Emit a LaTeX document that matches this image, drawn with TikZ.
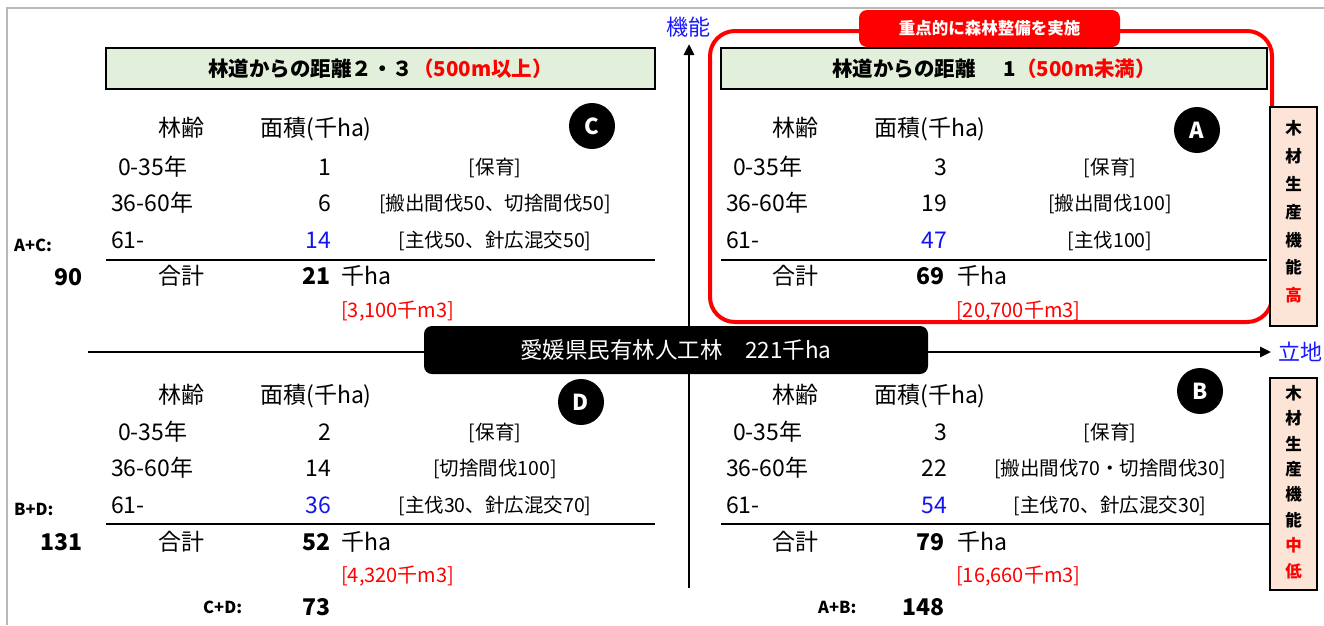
\documentclass[tikz,border=0pt]{standalone}
\usepackage{fontspec}
\setmainfont{Noto Sans CJK JP}
\usetikzlibrary{arrows.meta}
\definecolor{hdrgreen}{HTML}{E2EFDA}
\definecolor{peach}{HTML}{FCE4D6}
\definecolor{axblue}{RGB}{25,25,255}
\definecolor{framegray}{RGB}{185,185,185}
\definecolor{numblue}{RGB}{20,20,240}
\newcommand\myfs[1]{\fontsize{#1}{#1}\selectfont}
\tikzset{
 txt/.style={inner sep=0pt, font=\myfs{23}, text height=17pt, text depth=0pt},
 brk/.style={inner sep=0pt, font=\myfs{19.5}, text height=14.5pt, text depth=0pt},
 tot/.style={inner sep=0pt, font=\bfseries\myfs{23}, text height=17pt, text depth=0pt},
 lbl/.style={inner sep=0pt, font=\bfseries\myfs{16.5}, text height=12pt, text depth=0pt},
 vol/.style={inner sep=0pt, font=\myfs{20}, text=red, text height=14.8pt, text depth=0pt},
 hdr/.style={draw=black, line width=2.2pt, fill=hdrgreen, minimum height=41, inner sep=0pt,
   font=\bfseries\myfs{20.5}, text height=15pt, text depth=0pt},
 badge/.style={circle, fill=black, minimum size=46, inner sep=0pt, text=white,
   font=\bfseries\myfs{22}, text height=16pt, text depth=0pt},
 rulel/.style={line width=1.8pt},
 axis/.style={line width=2.6pt, -{Triangle[length=11pt,width=10pt]}},
 side/.style={draw=black, line width=2pt, fill=peach, minimum width=47, inner sep=0pt},
 sidetxt/.style={inner sep=0pt, align=center, font=\bfseries\fontsize{16.5}{27.8}\selectfont},
 axlbl/.style={inner sep=0pt, text=axblue, font=\myfs{22}, text height=16pt, text depth=0pt},
}
\begin{document}
\begin{tikzpicture}[x=1pt,y=-1pt]
\useasboundingbox (0,0) rectangle (1324,625);
% frame
\coordinate (fbl) at (7,625);
\coordinate (ftl) at (7,8);
\coordinate (ftr) at (1324,8);
\draw[framegray, line width=1.5pt] (fbl) -- (ftl) -- (ftr);

% axes
\coordinate (vbot) at (689,588);
\coordinate (vtop) at (689,44);
\coordinate (hleft) at (88,352);
\coordinate (hright) at (1271,352);
\draw[axis] (vbot) -- (vtop);
\draw[axis] (hleft) -- (hright);
\node[axlbl] (kino) at (688,27) {機能};
\node[axlbl, anchor=west] (ricchi) at (1278,352) {立地};

% center box
\node[fill=black, rounded corners=8pt, minimum width=504, minimum height=48, inner sep=0pt,
  text=white, font=\myfs{22.5}, text height=16.5pt, text depth=0pt] (total) at (676,350)
  {愛媛県民有林人工林　221千ha};

% headers
\node[hdr, minimum width=549] (hdrL) at (380.5,68.5)
  {林道からの距離２・３\textcolor{red}{（500m以上）}};
\node[hdr, minimum width=546] (hdrR) at (994,68.5)
  {林道からの距離\hspace{28pt}1\textcolor{red}{（500m未満）}};

% focus box
\node[draw=red, line width=4pt, rounded corners=25pt, minimum width=562, minimum height=291,
  inner sep=0pt] (focus) at (991,176.5) {};
\node[fill=red, rounded corners=8pt, minimum width=261, minimum height=37, inner sep=0pt,
  text=white, font=\bfseries\myfs{16.5}, text height=12pt, text depth=0pt] (focuslbl)
  at (989.5,28.5) {重点的に森林整備を実施};

% side boxes
\node[side, minimum height=219] (side1) at (1293.5,216.5) {};
\node[sidetxt] (side1t) at (1293.5,212) {木\\材\\生\\産\\機\\能\\\textcolor{red}{高}};
\node[side, minimum height=212] (side2) at (1293.5,484) {};
\node[sidetxt, font=\bfseries\fontsize{16.5}{25.4}\selectfont] (side2t) at (1293.5,482)
  {木\\材\\生\\産\\機\\能\\\textcolor{red}{中}\\\textcolor{red}{低}};

% ===== Quadrant C (top-left)
\node[txt] (cAgeH) at (181,128) {林齢};
\node[txt] (cAreaH) at (316,128) {面積(千ha)};
\node[badge] (cBadge) at (592,126) {C};
\node[txt, anchor=west] (cAge1) at (118,167) {0-35年};
\node[txt, anchor=east] (cN1) at (331,167) {1};
\node[brk] (cW1) at (495,167) {[保育]};
\node[txt, anchor=west] (cAge2) at (111,203) {36-60年};
\node[txt, anchor=east] (cN2) at (331,203) {6};
\node[brk] (cW2) at (495,203) {[搬出間伐50、切捨間伐50]};
\node[txt, anchor=west] (cAge3) at (111,240) {61-};
\node[txt, anchor=east, text=numblue] (cN3) at (331,240) {14};
\node[brk] (cW3) at (495,240) {[主伐50、針広混交50]};
\coordinate (cRl) at (106,260);
\coordinate (cRr) at (655,260);
\draw[rulel] (cRl) -- (cRr);
\node[txt] (cSumL) at (181,276) {合計};
\node[tot, anchor=east] (cSum) at (331,276) {21};
\node[txt, anchor=west] (cSumU) at (341,276) {千ha};
\node[vol, anchor=west] (cVol) at (341,310) {[3,100千m3]};

% ===== Quadrant A (top-right)
\node[txt] (aAgeH) at (795,128) {林齢};
\node[txt] (aAreaH) at (930,128) {面積(千ha)};
\node[badge] (aBadge) at (1197,130) {A};
\node[txt, anchor=west] (aAge1) at (733,167) {0-35年};
\node[txt, anchor=east] (aN1) at (947,167) {3};
\node[brk] (aW1) at (1110,167) {[保育]};
\node[txt, anchor=west] (aAge2) at (726,203) {36-60年};
\node[txt, anchor=east] (aN2) at (947,203) {19};
\node[brk] (aW2) at (1110,203) {[搬出間伐100]};
\node[txt, anchor=west] (aAge3) at (726,240) {61-};
\node[txt, anchor=east, text=numblue] (aN3) at (947,240) {47};
\node[brk] (aW3) at (1110,240) {[主伐100]};
\coordinate (aRl) at (721,260);
\coordinate (aRr) at (1267,260);
\draw[rulel] (aRl) -- (aRr);
\node[txt] (aSumL) at (795,276) {合計};
\node[tot, anchor=east] (aSum) at (945,276) {69};
\node[txt, anchor=west] (aSumU) at (957,276) {千ha};
\node[vol, anchor=west] (aVol) at (956,310) {[20,700千m3]};

% ===== Quadrant D (bottom-left)
\node[txt] (dAgeH) at (181,395) {林齢};
\node[txt] (dAreaH) at (316,395) {面積(千ha)};
\node[badge] (dBadge) at (581,402) {D};
\node[txt, anchor=west] (dAge1) at (118,432) {0-35年};
\node[txt, anchor=east] (dN1) at (331,432) {2};
\node[brk] (dW1) at (495,432) {[保育]};
\node[txt, anchor=west] (dAge2) at (111,468) {36-60年};
\node[txt, anchor=east] (dN2) at (331,468) {14};
\node[brk] (dW2) at (495,468) {[切捨間伐100]};
\node[txt, anchor=west] (dAge3) at (111,505) {61-};
\node[txt, anchor=east, text=numblue] (dN3) at (331,505) {36};
\node[brk] (dW3) at (495,505) {[主伐30、針広混交70]};
\coordinate (dRl) at (106,524);
\coordinate (dRr) at (655,524);
\draw[rulel] (dRl) -- (dRr);
\node[txt] (dSumL) at (181,542) {合計};
\node[tot, anchor=east] (dSum) at (331,542) {52};
\node[txt, anchor=west] (dSumU) at (341,542) {千ha};
\node[vol, anchor=west] (dVol) at (341,575) {[4,320千m3]};

% ===== Quadrant B (bottom-right)
\node[txt] (bAgeH) at (795,395) {林齢};
\node[txt] (bAreaH) at (930,395) {面積(千ha)};
\node[badge] (bBadge) at (1200,391) {B};
\node[txt, anchor=west] (bAge1) at (733,432) {0-35年};
\node[txt, anchor=east] (bN1) at (947,432) {3};
\node[brk] (bW1) at (1110,432) {[保育]};
\node[txt, anchor=west] (bAge2) at (726,468) {36-60年};
\node[txt, anchor=east] (bN2) at (947,468) {22};
\node[brk] (bW2) at (1110,468) {[搬出間伐70・切捨間伐30]};
\node[txt, anchor=west] (bAge3) at (726,505) {61-};
\node[txt, anchor=east, text=numblue] (bN3) at (947,505) {54};
\node[brk] (bW3) at (1110,505) {[主伐70、針広混交30]};
\coordinate (bRl) at (721,524);
\draw[rulel] (bRl) -- (side2.west |- bRl);
\node[txt] (bSumL) at (795,542) {合計};
\node[tot, anchor=east] (bSum) at (945,542) {79};
\node[txt, anchor=west] (bSumU) at (957,542) {千ha};
\node[vol, anchor=west] (bVol) at (956,575) {[16,660千m3]};

% ===== sums
\node[lbl, anchor=west] (acL) at (14,245) {A+C:};
\node[tot, anchor=east] (acV) at (83,277) {90};
\node[lbl, anchor=west] (bdL) at (14,509) {B+D:};
\node[tot, anchor=east] (bdV) at (83,542) {131};
\node[lbl, anchor=west] (cdL) at (203,607) {C+D:};
\node[tot, anchor=east] (cdV) at (331,607) {73};
\node[lbl, anchor=west] (abL) at (818,607) {A+B:};
\node[tot, anchor=east] (abV) at (945,607) {148};
\end{tikzpicture}
\end{document}
